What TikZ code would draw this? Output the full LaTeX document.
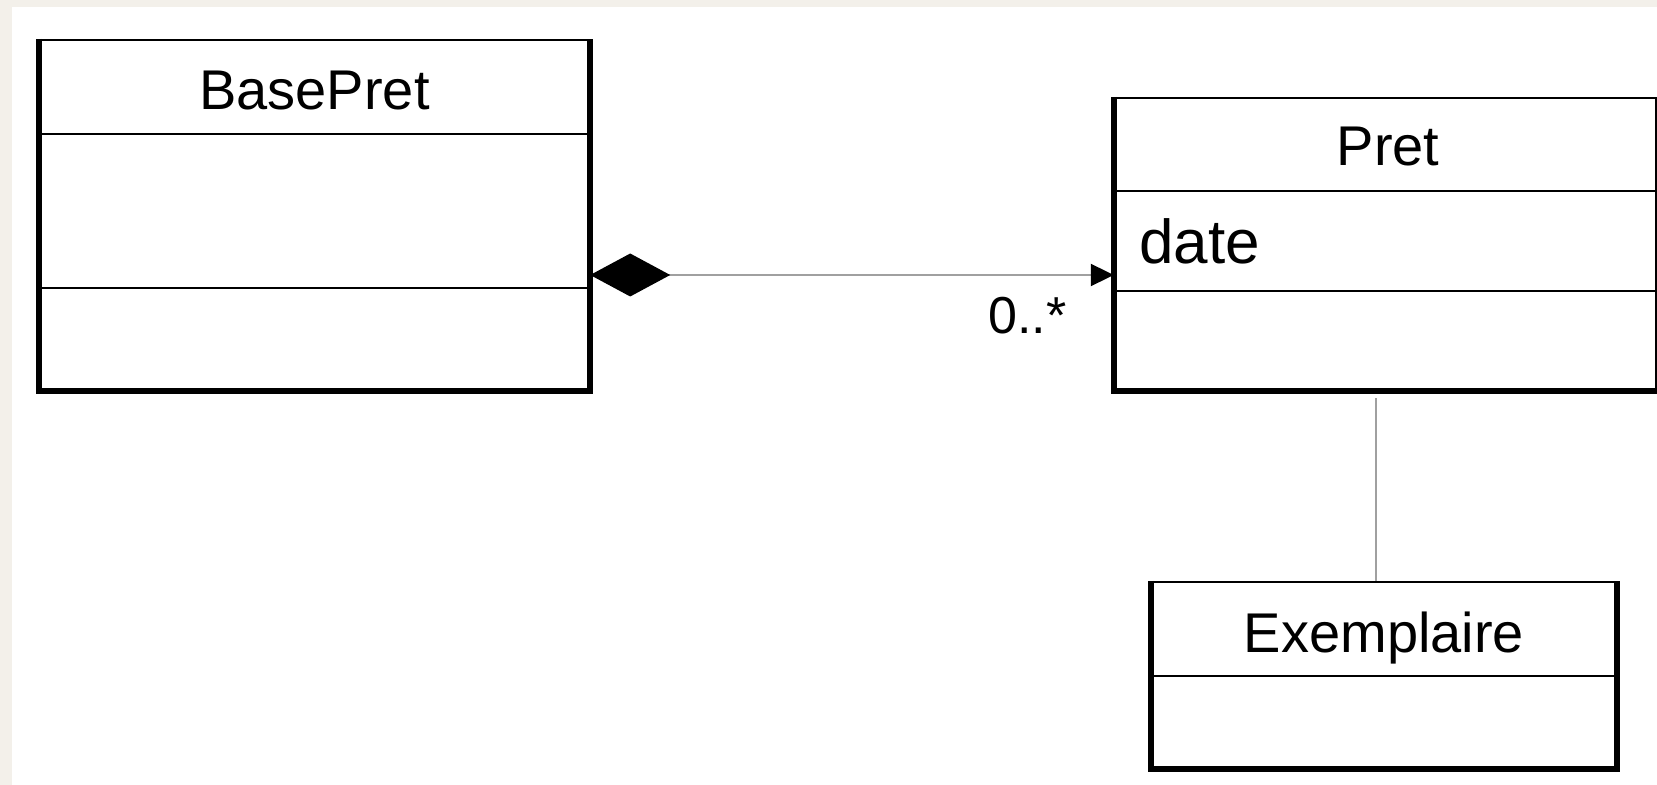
\documentclass[tikz,border=0pt]{standalone}
\usepackage{fontspec}
\setmainfont{Liberation Sans}
\usetikzlibrary{arrows.meta}
\definecolor{pagebg}{HTML}{F3F0EA}
\definecolor{linkgray}{HTML}{A0A0A0}
\tikzset{
  classbox/.style={draw, line width=1.2pt, fill=white, inner sep=0pt},
  heavy/.style={line width=3pt},
  link/.style={draw=linkgray, line width=1pt},
  classname/.style={font=\fontsize{28}{34}\selectfont, anchor=base},
}
\begin{document}
\begin{tikzpicture}[x=0.5pt,y=-0.5pt]
	\useasboundingbox (0,0) rectangle (1657,785);
	\fill[pagebg] (0,0) rectangle (1657,785);
	\fill[white] (12,7) rectangle (1657,785);
	\clip (0,0) rectangle (1657,785);

	% BasePret
	\node[classbox, minimum width=274.5pt, minimum height=175pt] (basepret) at (314.5,215) {};
	\draw[line width=1.2pt] (basepret.west |- 0,134) -- (basepret.east |- 0,134);
	\draw[line width=1.2pt] (basepret.west |- 0,288) -- (basepret.east |- 0,288);
	\draw[heavy] (basepret.north west) -- (basepret.south west)
		-- (basepret.south east) -- (basepret.north east);
	\node[classname] (basepretname) at (314.5,110) {BasePret};

	% Pret
	\node[classbox, minimum width=270.5pt, minimum height=146pt] (pret) at (1385.5,244) {};
	\draw[line width=1.2pt] (pret.west |- 0,191) -- (pret.east |- 0,191);
	\draw[line width=1.2pt] (pret.west |- 0,291) -- (pret.east |- 0,291);
	\draw[heavy] (pret.north west) -- (pret.south west) -- (pret.south east);
	\node[classname] (pretname) at (1388,166) {Pret};
	\node[font=\fontsize{31}{37}\selectfont, anchor=base west, inner sep=0pt] (pretdate) at (1139,264) {date};

	% Exemplaire
	\node[classbox, minimum width=232pt, minimum height=93pt] (exemplaire) at (1384,675) {};
	\draw[line width=1.2pt] (exemplaire.west |- 0,676) -- (exemplaire.east |- 0,676);
	\draw[heavy] (exemplaire.north west) -- (exemplaire.south west)
		-- (exemplaire.south east) -- (exemplaire.north east);
	\node[classname] (exemplairename) at (1384,652) {Exemplaire};

	% links
	\draw[link, {Diamond[length=40pt,width=21.5pt,color=black]}-{Triangle[length=11.5pt,width=11pt,color=black]}]
		(basepret.east |- 0,275) -- (pret.west |- 0,275);
	\node[font=\fontsize{26}{31}\selectfont, anchor=base east, inner sep=0pt] (mult) at (1067,334) {0..*};

	\draw[link, shorten <=3.5pt] (pret.south -| 1376,0) -- (exemplaire.north -| 1376,0);
\end{tikzpicture}
\end{document}
